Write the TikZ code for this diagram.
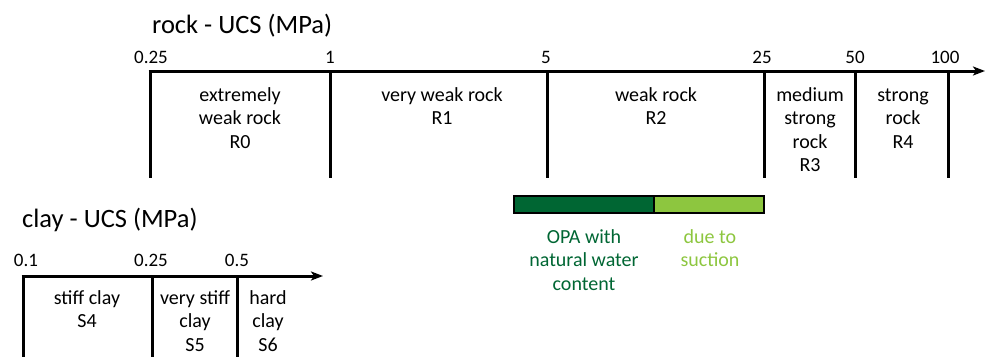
\documentclass[tikz,border=0pt]{standalone}
\usepackage{fontspec}
\setmainfont{Carlito}
\usetikzlibrary{arrows.meta}
\definecolor{dgreen}{HTML}{006633}
\definecolor{lgreen}{HTML}{8DC63F}
\tikzset{
  axisline/.style={line width=3pt,-{Stealth[length=12pt,width=9pt,inset=3pt]}},
  tickline/.style={line width=3pt},
  ticklabel/.style={anchor=base,inner sep=0pt,font=\fontsize{19}{23}\selectfont},
  classlabel/.style={anchor=base,inner sep=0pt,align=center,font=\fontsize{20}{23.5}\selectfont},
  titlelabel/.style={anchor=base west,inner sep=0pt,font=\fontsize{26.5}{30}\selectfont},
  barbox/.style={draw=black,line width=1.8pt},
}
\begin{document}
\begin{tikzpicture}[x=1pt,y=-1pt]
\useasboundingbox (0,0) rectangle (985,356);
% rock scale
\node[titlelabel] (rtitle) at (152,33) {rock - UCS (MPa)};
\coordinate (rstart) at (148.5,71);
\coordinate (rend) at (985,71);
\draw[axisline] (rstart) -- (rend);
\foreach \n/\x/\lx/\lab in {a/150/151/0.25,b/330/330/1,c/547/546/5,d/764/762/25,e/855/855/50,f/948/945/100}{
  \coordinate (rt\n) at (\x,71);
  \coordinate (rb\n) at (\x,178);
  \draw[tickline] (rt\n) -- (rb\n);
  \node[ticklabel] (rl\n) at (\lx,63) {\lab};
}
% anchor=base of a multi-line node is the last line's baseline
\node[classlabel] (r0) at (240,148) {extremely\\weak rock\\R0};
\node[classlabel] (r1) at (442,124.5) {very weak rock\\R1};
\node[classlabel] (r2) at (656,124.5) {weak rock\\R2};
\node[classlabel] (r3) at (810,171.5) {medium\\strong\\rock\\R3};
\node[classlabel] (r4) at (903,148) {strong\\rock\\R4};
% green bar
\coordinate (ga) at (514,196);
\coordinate (gb) at (654,213);
\coordinate (gc) at (654,196);
\coordinate (gd) at (764,213);
\draw[barbox,fill=dgreen] (ga) rectangle (gb);
\draw[barbox,fill=lgreen] (gc) rectangle (gd);
\node[classlabel,text=dgreen] (opa) at (584,290) {OPA with\\natural water\\content};
\node[classlabel,text=lgreen] (suc) at (710,266.5) {due to\\suction};
% clay scale
\node[titlelabel] (ctitle) at (22,227) {clay - UCS (MPa)};
\coordinate (cstart) at (21.5,276);
\coordinate (cend) at (323,276);
\draw[axisline] (cstart) -- (cend);
\foreach \n/\x/\lx/\lab in {a/23/26/0.1,b/152/151/0.25,c/237/237/0.5}{
  \coordinate (ct\n) at (\x,276);
  \coordinate (cb\n) at (\x,358);
  \draw[tickline] (ct\n) -- (cb\n);
  \node[ticklabel] (cl\n) at (\lx,266) {\lab};
}
\node[classlabel] (s4) at (87,327.5) {stiff clay\\S4};
\node[classlabel] (s5) at (195,351) {very stiff\\clay\\S5};
\node[classlabel] (s6) at (268,351) {hard\\clay\\S6};
\end{tikzpicture}
\end{document}
